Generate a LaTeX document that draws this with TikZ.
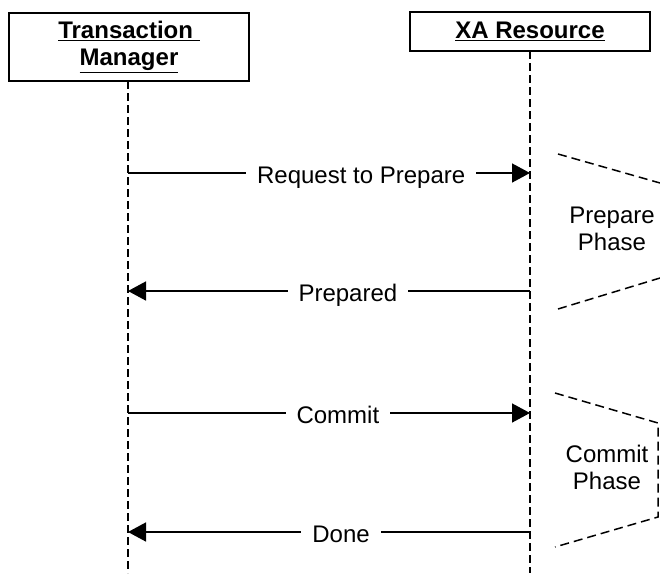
\documentclass[tikz,border=0pt]{standalone}
\usepackage{fontspec}
\setmainfont{Liberation Sans}
\usetikzlibrary{arrows.meta}
\begin{document}
\begin{tikzpicture}[x=1pt,y=-1pt,
  every node/.style={font=\fontsize{24}{27}\selectfont},
  actor/.style={draw, line width=1.5pt, inner sep=0pt, align=center,
    font=\fontsize{24}{27}\selectfont\bfseries},
  lifeline/.style={line width=1.3pt, dash pattern=on 8pt off 4pt},
  msg/.style={line width=1.5pt},
  tip/.style={-{Triangle[length=18pt,width=19pt]}},
  lbl/.style={fill=white, inner xsep=11pt, inner ysep=2pt, anchor=base, yshift=-10pt},
  phase/.style={line width=1.5pt, dash pattern=on 9pt off 5pt},
  phtext/.style={align=center, font=\fontsize{24}{27}\selectfont}
]
\useasboundingbox (0,0) rectangle (660,573);
\coordinate (bottom) at (0,573);

% actors
\node[actor, minimum width=240pt, minimum height=68pt] (tm) at (129,47)
  {\underline{Transaction }\\\underline{Manager}};
\node[actor, minimum width=240pt, minimum height=39pt] (xa) at (530,31.5)
  {\underline{XA Resource}};

% lifelines
\coordinate (tmtop) at (128,81);
\coordinate (xatop) at (530,51);
\draw[lifeline] (tmtop) -- (tmtop |- bottom);
\draw[lifeline] (xatop) -- (xatop |- bottom);

% message anchor points
\coordinate (tm1) at (128,173); \coordinate (xa1) at (530,173);
\coordinate (tm2) at (128,291); \coordinate (xa2) at (530,291);
\coordinate (tm3) at (128,413); \coordinate (xa3) at (530,413);
\coordinate (tm4) at (128,532); \coordinate (xa4) at (530,532);

\draw[msg,tip] (tm1) -- (xa1) node[lbl, pos=0.58] (m1) {Request to Prepare};
\draw[msg,tip] (xa2) -- (tm2) node[lbl, pos=0.453] (m2) {Prepared};
\draw[msg,tip] (tm3) -- (xa3) node[lbl, pos=0.522] (m3) {Commit};
\draw[msg,tip] (xa4) -- (tm4) node[lbl, pos=0.47] (m4) {Done};

% phases
\draw[phase] (558,154) -- (660,183);
\draw[phase] (558,309) -- (660,278);
\node[phtext] (p1) at (612,229) {Prepare\\Phase};

\draw[phase] (555,393) -- (658,423) -- (658,517) -- (555,547);
\node[phtext] (p2) at (607,467) {Commit\\Phase};
\end{tikzpicture}
\end{document}
